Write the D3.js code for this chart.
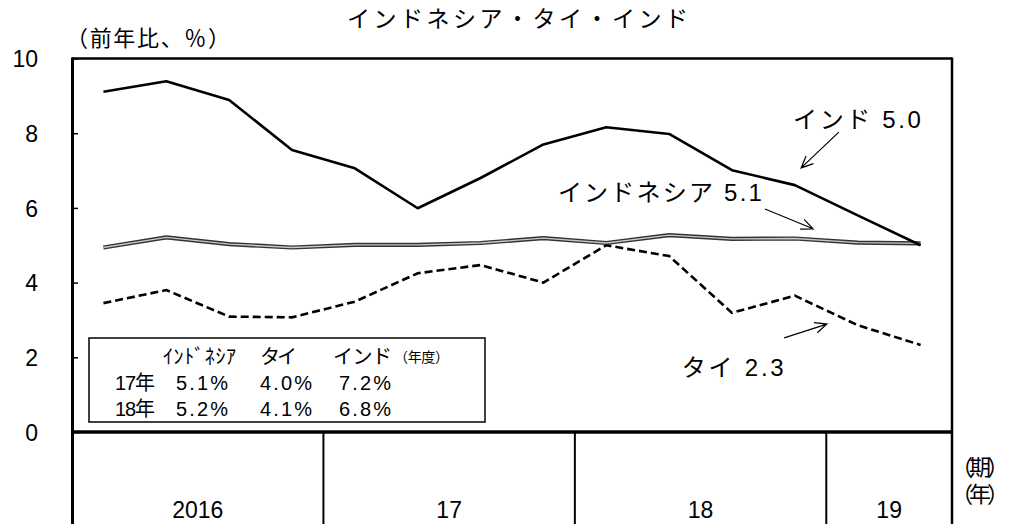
<!DOCTYPE html>
<html><head><meta charset="utf-8">
<script src="https://cdn.jsdelivr.net/npm/d3@7"></script>
<style>
html,body{margin:0;padding:0;background:#fff;}
svg{display:block;font-family:"Liberation Sans","Noto Sans CJK JP",sans-serif;}
</style></head>
<body><svg id="c" width="1009" height="524"></svg>
<script>
// ---- data ----
const quarters = ["2016Q1","2016Q2","2016Q3","2016Q4","2017Q1","2017Q2","2017Q3","2017Q4","2018Q1","2018Q2","2018Q3","2018Q4","2019Q1","2019Q2"];
const yearLabels = ["2016","17","18","19"];
const yearQuarterCounts = [4,4,4,2];
const india = [9.11, 9.39, 8.89, 7.55, 7.06, 5.99, 6.80, 7.70, 8.16, 7.98, 7.01, 6.61, 5.80, 5.00];
const indonesia = [4.94, 5.21, 5.03, 4.94, 5.01, 5.01, 5.06, 5.19, 5.06, 5.27, 5.17, 5.18, 5.07, 5.05];
const thailand = [3.45, 3.80, 3.09, 3.07, 3.49, 4.25, 4.47, 4.00, 5.00, 4.71, 3.19, 3.65, 2.86, 2.33];
const yTicks = [0, 2, 4, 6, 8, 10];
const legendHeaders = ["ｲﾝﾄﾞﾈｼｱ", "タイ", "インド"];
const legendRowLabels = ["17年", "18年"];
const legendIndonesia = ["5.1%", "5.2%"];
const legendThailand = ["4.0%", "4.1%"];
const legendIndia = ["7.2%", "6.8%"];
const seriesLabels = ["インド 5.0", "インドネシア 5.1", "タイ 2.3"];

// ---- layout ----
const svg = d3.select("#c");
const L = 72, R = 952, T = 58.5, B = 432;
const x = d3.scaleBand().domain(quarters).range([L, R]).padding(0);
const xi = d3.scaleLinear().domain([-0.5, quarters.length - 0.5]).range([L, R]);
const y = d3.scaleLinear().domain([0, 10]).range([B, T]);
const cx = q => x(q) + x.bandwidth() / 2;
const FONT = 24, NUM = 23;

// title
svg.append("text").attr("x", 347).attr("y", 27).attr("font-size", 23)
  .attr("textLength", 341).attr("lengthAdjust", "spacing").text("インドネシア・タイ・インド");
svg.append("text").attr("x", 66).attr("y", 46).attr("font-size", 22)
  .attr("textLength", 164).attr("lengthAdjust", "spacing").text("（前年比、％）");

// y axis
const yAxis = d3.axisLeft(y).tickValues(yTicks).tickSize(-6).tickFormat(d3.format("d"));
const gy = svg.append("g").attr("transform", `translate(${L},0)`).call(yAxis);
gy.select(".domain").remove();
gy.selectAll(".tick line").attr("stroke", "#000").attr("stroke-width", 1.5);
gy.selectAll(".tick text").attr("x", 38 - L).attr("font-size", NUM)
  .attr("font-family", "Liberation Sans, sans-serif").attr("fill", "#000").attr("dy", "0.36em");

// lines
const line = d3.line().x((d, i) => cx(quarters[i])).y(d => y(d));
svg.append("path").datum(indonesia).attr("d", line).attr("fill", "none")
  .attr("stroke", "#333").attr("stroke-width", 4.2).attr("stroke-linejoin", "round");
svg.append("path").datum(indonesia).attr("d", line).attr("fill", "none")
  .attr("stroke", "#c8c8c8").attr("stroke-width", 1.4).attr("stroke-linejoin", "round");
svg.append("path").datum(thailand).attr("d", line).attr("fill", "none")
  .attr("stroke", "#000").attr("stroke-width", 2.6).attr("stroke-dasharray", "8,4");
svg.append("path").datum(india).attr("d", line).attr("fill", "none")
  .attr("stroke", "#000").attr("stroke-width", 2.6).attr("stroke-linejoin", "round");

// frame
svg.append("line").attr("x1", L).attr("x2", R).attr("y1", T).attr("y2", T).attr("stroke", "#000").attr("stroke-width", 2.5);
svg.append("line").attr("x1", L).attr("x2", R + 1).attr("y1", B).attr("y2", B).attr("stroke", "#000").attr("stroke-width", 3.5);
svg.append("line").attr("x1", L + 0.5).attr("x2", L + 0.5).attr("y1", T - 1).attr("y2", 524).attr("stroke", "#000").attr("stroke-width", 3);
svg.append("line").attr("x1", R).attr("x2", R).attr("y1", T - 1).attr("y2", 524).attr("stroke", "#000").attr("stroke-width", 2.5);

// year separators and labels
let acc = 0;
yearLabels.forEach((lab, k) => {
  const first = quarters[acc], last = quarters[acc + yearQuarterCounts[k] - 1];
  const x0 = x(first), x1 = x(last) + x.bandwidth();
  if (k > 0) svg.append("line").attr("x1", x0).attr("x2", x0).attr("y1", B).attr("y2", 524)
    .attr("stroke", "#000").attr("stroke-width", 2);
  svg.append("text").attr("x", (x0 + x1) / 2).attr("y", 518).attr("text-anchor", "middle")
    .attr("font-size", NUM).text(lab);
  acc += yearQuarterCounts[k];
});
svg.append("text").attr("x", 951).attr("y", 475).attr("font-size", 22).attr("textLength", 58).attr("lengthAdjust", "spacing").text("（期）");
svg.append("text").attr("x", 951).attr("y", 502).attr("font-size", 22).attr("textLength", 58).attr("lengthAdjust", "spacing").text("（年）");

// annotations (in data coordinates)
const labelPos = [[10.97, 8.15, 128], [7.23, 6.19, 204], [9.20, 1.51, 102]];
seriesLabels.forEach((t, k) => {
  svg.append("text").attr("x", xi(labelPos[k][0])).attr("y", y(labelPos[k][1]))
    .attr("font-size", FONT).attr("textLength", labelPos[k][2]).attr("lengthAdjust", "spacing").text(t);
});
const arrows = [[11.70, 8.03, 11.10, 7.07], [10.525, 5.97, 11.29, 5.44], [10.83, 2.52, 11.51, 2.89]];
arrows.forEach(a => {
  const x1 = xi(a[0]), y1 = y(a[1]), x2 = xi(a[2]), y2 = y(a[3]);
  const ang = Math.atan2(y2 - y1, x2 - x1), h = 13, s = 0.42;
  svg.append("path")
    .attr("d", `M${x1},${y1}L${x2},${y2}M${x2 - h * Math.cos(ang - s)},${y2 - h * Math.sin(ang - s)}L${x2},${y2}L${x2 - h * Math.cos(ang + s)},${y2 - h * Math.sin(ang + s)}`)
    .attr("fill", "none").attr("stroke", "#000").attr("stroke-width", 1.2);
});

// legend table
const lg = svg.append("g");
lg.append("rect").attr("x", 89).attr("y", 338).attr("width", 396).attr("height", 84)
  .attr("fill", "#fff").attr("stroke", "#000").attr("stroke-width", 1.5);
const colX = [176, 260, 339];
const headerW = [73, 37, 59];
const hdrX = [163, 260, 333];
legendHeaders.forEach((h, i) => {
  lg.append("text").attr("x", hdrX[i]).attr("y", 364).attr("font-size", 20)
    .attr("textLength", headerW[i]).attr("lengthAdjust", "spacing").text(h);
});
lg.append("text").attr("x", 394).attr("y", 362).attr("font-size", 14)
  .attr("textLength", 55).attr("lengthAdjust", "spacing").text("（年度）");
const rowY = [390, 416];
legendRowLabels.forEach((r, j) => {
  lg.append("text").attr("x", 115).attr("y", rowY[j]).attr("font-size", 20)
    .attr("textLength", 40).attr("lengthAdjust", "spacing").text(r);
  [legendIndonesia, legendThailand, legendIndia].forEach((arr, i) => {
    lg.append("text").attr("x", colX[i]).attr("y", rowY[j]).attr("font-size", 20)
      .attr("textLength", 52).attr("lengthAdjust", "spacing").text(arr[j]);
  });
});
</script></body></html>
